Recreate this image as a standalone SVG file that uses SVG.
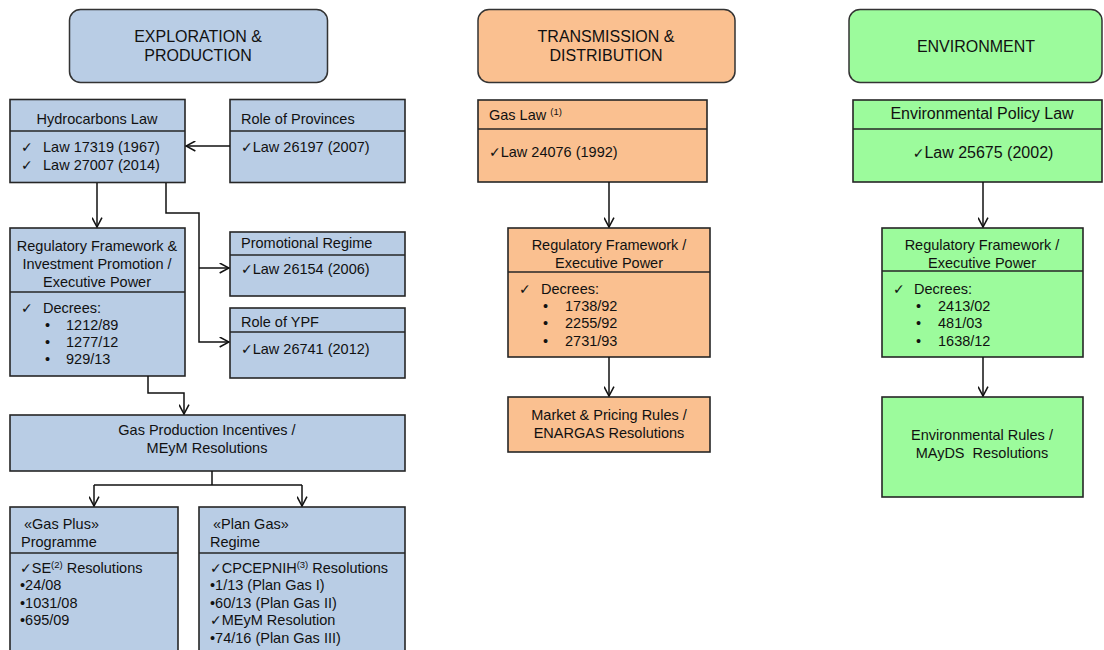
<svg xmlns="http://www.w3.org/2000/svg" width="1104" height="650" viewBox="0 0 1104 650">
<defs>
<style>
text{font-family:"Liberation Sans",Arial,"DejaVu Sans",sans-serif;font-size:14.5px;fill:#111}
.hd{font-size:16px}
.big{font-size:16px}
.c{text-anchor:middle}
.ck{font-family:"DejaVu Sans",sans-serif;font-size:14px}
.sup{font-size:9.5px}
.b{fill:#b9cde5;stroke:#262626;stroke-width:1.6}
.o{fill:#fac090;stroke:#262626;stroke-width:1.6}
.g{fill:#9cfb9c;stroke:#262626;stroke-width:1.6}
.hb{stroke:#333;stroke-width:1.5}
.dv{stroke:#262626;stroke-width:1.4;fill:none}
.ln{stroke:#111;stroke-width:1.5;fill:none}
.ar{marker-end:url(#arr)}
</style>
<marker id="arr" viewBox="0 0 10 10" refX="9.5" refY="5" markerWidth="11" markerHeight="11" markerUnits="userSpaceOnUse" orient="auto">
<path d="M1,0.5 L9.5,5 L1,9.5" fill="none" stroke="#111" stroke-width="1.4"/>
</marker>
</defs>
<rect width="1104" height="650" fill="#fff"/>

<g id="hdr-ep">
<rect x="69.5" y="9.5" width="258" height="73" rx="11" class="b hb"/>
<text x="198" y="42" class="hd c">EXPLORATION &amp;</text>
<text x="198" y="61" class="hd c">PRODUCTION</text>
</g>
<g id="hdr-td">
<rect x="478" y="9.5" width="257" height="73" rx="11" class="o hb"/>
<text x="606" y="42" class="hd c">TRANSMISSION &amp;</text>
<text x="606" y="61" class="hd c">DISTRIBUTION</text>
</g>
<g id="hdr-env">
<rect x="849" y="9.5" width="253" height="73" rx="11" class="g hb"/>
<text x="976" y="52" class="hd c">ENVIRONMENT</text>
</g>

<g id="hydro">
<rect x="10" y="99.5" width="175" height="83" class="b"/>
<line x1="10" y1="131" x2="185" y2="131" class="dv"/>
<text x="97" y="124" class="c">Hydrocarbons Law</text>
<text x="21" y="152" class="ck">✓</text><text x="43" y="152">Law 17319 (1967)</text>
<text x="21" y="170" class="ck">✓</text><text x="43" y="170">Law 27007 (2014)</text>
</g>
<g id="provinces">
<rect x="230" y="99.5" width="175" height="83" class="b"/>
<line x1="230" y1="131" x2="405" y2="131" class="dv"/>
<text x="241" y="124">Role of Provinces</text>
<text x="241" y="152"><tspan class="ck">✓</tspan>Law 26197 (2007)</text>
</g>
<g id="regfw-ep">
<rect x="10" y="228" width="175" height="148" class="b"/>
<line x1="10" y1="292" x2="185" y2="292" class="dv"/>
<text x="97" y="251" class="c">Regulatory Framework &amp;</text>
<text x="97" y="269" class="c">Investment Promotion /</text>
<text x="97" y="287" class="c">Executive Power</text>
<text x="21" y="313" class="ck">✓</text><text x="43" y="313">Decrees:</text>
<text x="45" y="330">•</text><text x="66" y="330">1212/89</text>
<text x="45" y="347">•</text><text x="66" y="347">1277/12</text>
<text x="45" y="364">•</text><text x="66" y="364">929/13</text>
</g>
<g id="promo">
<rect x="230" y="232" width="175" height="64" class="b"/>
<line x1="230" y1="255" x2="405" y2="255" class="dv"/>
<text x="241" y="248">Promotional Regime</text>
<text x="241" y="274"><tspan class="ck">✓</tspan>Law 26154 (2006)</text>
</g>
<g id="ypf">
<rect x="230" y="308" width="175" height="70" class="b"/>
<line x1="230" y1="332" x2="405" y2="332" class="dv"/>
<text x="241" y="327">Role of YPF</text>
<text x="241" y="354"><tspan class="ck">✓</tspan>Law 26741 (2012)</text>
</g>
<g id="gasprod">
<rect x="10" y="415" width="395" height="56" class="b"/>
<text x="207" y="435" class="c">Gas Production Incentives /</text>
<text x="207" y="453" class="c">MEyM Resolutions</text>
</g>
<g id="gasplus">
<rect x="10" y="507" width="168" height="160" class="b"/>
<line x1="10" y1="553" x2="178" y2="553" class="dv"/>
<text x="24" y="529">«Gas Plus»</text>
<text x="21" y="547">Programme</text>
<text x="20" y="573"><tspan class="ck">✓</tspan>SE<tspan class="sup" dy="-5">(2)</tspan><tspan dy="5"> Resolutions</tspan></text>
<text x="20" y="590">•24/08</text>
<text x="20" y="608">•1031/08</text>
<text x="20" y="625">•695/09</text>
</g>
<g id="plangas">
<rect x="199" y="507" width="206" height="160" class="b"/>
<line x1="199" y1="553" x2="405" y2="553" class="dv"/>
<text x="213" y="529">«Plan Gas»</text>
<text x="210" y="547">Regime</text>
<text x="210" y="573"><tspan class="ck">✓</tspan>CPCEPNIH<tspan class="sup" dy="-5">(3)</tspan><tspan dy="5"> Resolutions</tspan></text>
<text x="210" y="590">•1/13 (Plan Gas I)</text>
<text x="210" y="608">•60/13 (Plan Gas II)</text>
<text x="210" y="625"><tspan class="ck">✓</tspan>MEyM Resolution</text>
<text x="210" y="643">•74/16 (Plan Gas III)</text>
</g>

<g id="gaslaw">
<rect x="478" y="100" width="229" height="82" class="o"/>
<line x1="478" y1="129" x2="707" y2="129" class="dv"/>
<text x="489" y="120">Gas Law <tspan class="sup" dy="-5">(1)</tspan></text>
<text x="489" y="157"><tspan class="ck">✓</tspan>Law 24076 (1992)</text>
</g>
<g id="regfw-td">
<rect x="508" y="228" width="202" height="129" class="o"/>
<line x1="508" y1="272" x2="710" y2="272" class="dv"/>
<text x="609" y="250" class="c">Regulatory Framework /</text>
<text x="609" y="268" class="c">Executive Power</text>
<text x="519" y="294" class="ck">✓</text><text x="541" y="294">Decrees:</text>
<text x="543" y="311">•</text><text x="565" y="311">1738/92</text>
<text x="543" y="328">•</text><text x="565" y="328">2255/92</text>
<text x="543" y="346">•</text><text x="565" y="346">2731/93</text>
</g>
<g id="market">
<rect x="508" y="397" width="202" height="55" class="o"/>
<text x="609" y="420" class="c">Market &amp; Pricing Rules /</text>
<text x="609" y="438" class="c">ENARGAS Resolutions</text>
</g>

<g id="envlaw">
<rect x="853" y="100" width="249" height="82" class="g"/>
<line x1="853" y1="129" x2="1102" y2="129" class="dv"/>
<text x="982" y="119" class="c big">Environmental Policy Law</text>
<text x="983" y="158" class="c big"><tspan class="ck">✓</tspan>Law 25675 (2002)</text>
</g>
<g id="regfw-env">
<rect x="882" y="228" width="201" height="129" class="g"/>
<line x1="882" y1="271" x2="1083" y2="271" class="dv"/>
<text x="982" y="250" class="c">Regulatory Framework /</text>
<text x="982" y="268" class="c">Executive Power</text>
<text x="893" y="294" class="ck">✓</text><text x="914" y="294">Decrees:</text>
<text x="916" y="311">•</text><text x="938" y="311">2413/02</text>
<text x="916" y="328">•</text><text x="938" y="328">481/03</text>
<text x="916" y="346">•</text><text x="938" y="346">1638/12</text>
</g>
<g id="envrules">
<rect x="882" y="397" width="201" height="100" class="g"/>
<text x="982" y="440" class="c">Environmental Rules /</text>
<text x="982" y="458" class="c">MAyDS&#160; Resolutions</text>
</g>

<g id="connectors">
<path d="M230,146 H186" class="ln ar"/>
<path d="M97,183 V227" class="ln ar"/>
<path d="M166,183 V213 H199 V342 H229" class="ln ar"/>
<path d="M199,268 H229" class="ln ar"/>
<path d="M148,376 V393 H184 V414" class="ln ar"/>
<path d="M212,471 V485" class="ln"/>
<path d="M94,485 H302" class="ln"/>
<path d="M94,485 V506" class="ln ar"/>
<path d="M302,485 V506" class="ln ar"/>
<path d="M609,182 V227" class="ln ar"/>
<path d="M609,357 V396" class="ln ar"/>
<path d="M983,182 V227" class="ln ar"/>
<path d="M983,357 V396" class="ln ar"/>
</g>
</svg>
